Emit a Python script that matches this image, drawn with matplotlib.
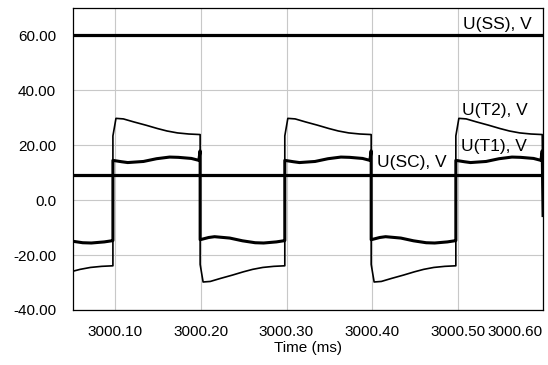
import numpy as np
import matplotlib
matplotlib.use("Agg")
import matplotlib.pyplot as plt

# switching instants, ms (first one is the edge just before the visible window)
edges = [2999.996, 3000.097, 3000.199, 3000.298, 3000.399, 3000.498, 3000.599]
t_end, u_end = 3000.600, -5.6   # last sample, caught in the middle of the falling edge

# one half-period of U(T2), position as fraction of the half-period
t2_frac = [0.0, 0.035, 0.12, 0.24, 0.38, 0.51, 0.62, 0.74, 0.87, 1.0]
t2_high = [23.4, 29.8, 29.6, 28.5, 27.3, 26.1, 25.2, 24.5, 24.1, 23.9]
t2_low = [-23.4, -29.8, -29.6, -28.5, -27.3, -26.1, -25.2, -24.5, -24.1, -23.9]

# one half-period of U(T1)
t1_frac = [0.0, 0.1, 0.17, 0.35, 0.5, 0.65, 0.75, 0.9, 0.985, 1.0]
t1_high = [14.5, 14.0, 13.7, 14.1, 15.1, 15.7, 15.6, 15.2, 14.5, 18.0]
t1_low = [-14.4, -13.6, -13.3, -13.8, -14.8, -15.5, -15.6, -15.2, -14.8, -14.7]

u_ss = 60.0
u_sc = 9.2

x_ticks = [3000.10, 3000.20, 3000.30, 3000.40, 3000.50, 3000.60]
x_labels = ["3000.10", "3000.20", "3000.30", "3000.40", "3000.50", "3000.60"]
y_ticks = [-40, -20, 0, 20, 40, 60]
y_labels = ["-40.00", "-20.00", "0.0", "20.00", "40.00", "60.00"]


def build(frac, low, high):
    t, u = [], []
    for k in range(len(edges) - 1):
        a, b = edges[k], edges[k + 1]
        vals = low if k % 2 == 0 else high
        t += [a + f * (b - a) for f in frac]
        u += vals
    t.append(t_end)
    u.append(u_end)
    return np.array(t), np.array(u)


t2_t, t2_u = build(t2_frac, t2_low, t2_high)
t1_t, t1_u = build(t1_frac, t1_low, t1_high)

plt.rcParams["font.family"] = ["Liberation Sans", "DejaVu Sans"]

fig = plt.figure(figsize=(5.48, 3.65), dpi=100)
ax = fig.add_axes([0.1327, 0.1507, 0.8583, 0.8274])

ax.plot(t2_t, t2_u, color="black", lw=1.2, zorder=3)
ax.plot(t1_t, t1_u, color="black", lw=2.2, zorder=4)
ax.plot([3000.05, t_end], [u_sc, u_sc], color="black", lw=2.3, zorder=4)
ax.plot([3000.05, t_end], [u_ss, u_ss], color="black", lw=2.3, zorder=4)

ax.set_xlim(3000.05, 3000.60)
ax.set_ylim(-40, 70)
ax.set_xticks(x_ticks, x_labels)
ax.set_yticks(y_ticks, y_labels)
ax.tick_params(length=0, labelsize=11)
ax.tick_params(axis="y", pad=12)
ax.tick_params(axis="x", pad=11)
ax.get_xticklabels()[-1].set_horizontalalignment("right")

ax.grid(True, color="#c8c8c8", lw=0.8)
ax.set_axisbelow(True)
for s in ax.spines.values():
    s.set_color("black")
    s.set_linewidth(0.9)

ax.set_xlabel("Time (ms)", fontsize=11, labelpad=1)

lab_kw = dict(fontsize=12.5, va="center", ha="left", zorder=5)
ax.text(3000.506, 63.9, "U(SS), V", **lab_kw)
ax.text(3000.505, 32.5, "U(T2), V", **lab_kw)
ax.text(3000.504, 19.7, "U(T1), V", **lab_kw)
ax.text(3000.406, 13.7, "U(SC), V", **lab_kw)

fig.savefig("out.png", dpi=100)
